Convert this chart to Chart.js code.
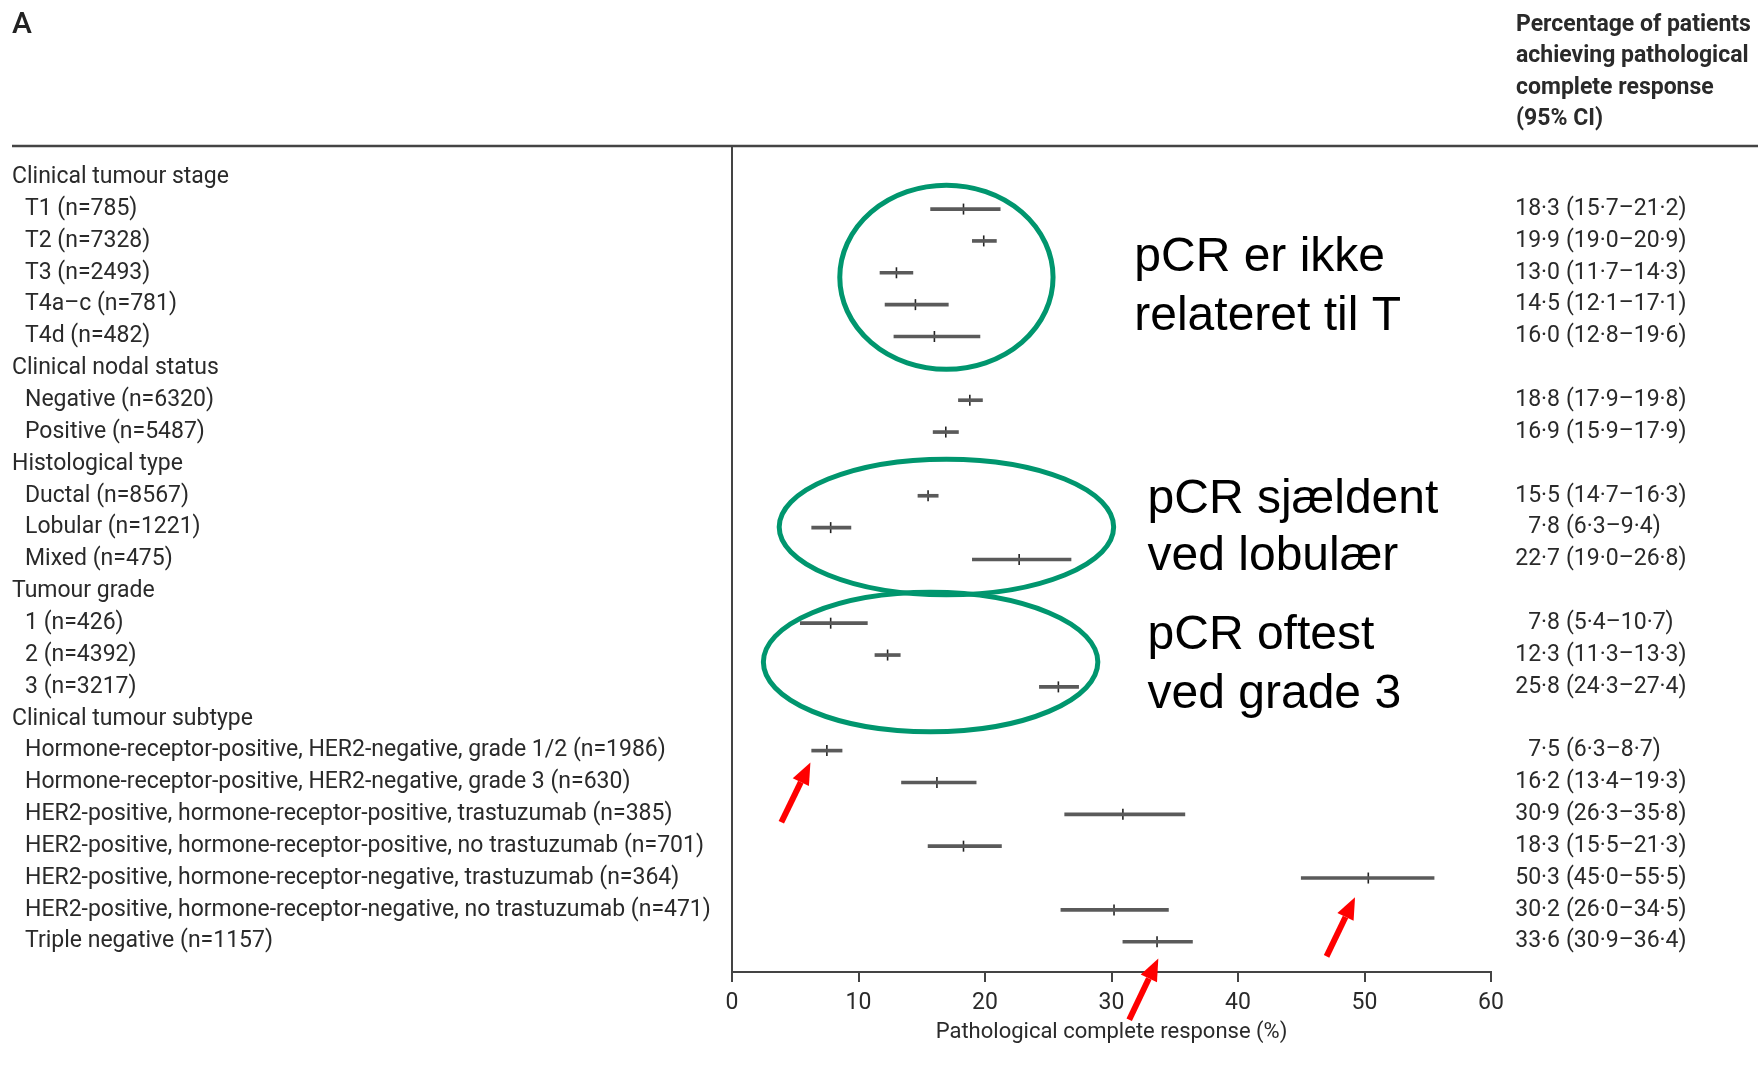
<!DOCTYPE html>
<html>
<head>
<meta charset="utf-8">
<script src="https://cdn.jsdelivr.net/npm/chart.js@4/dist/chart.umd.min.js"></script>
<style>
  body { margin: 0; background: #fff; }
  canvas { display: block; }
</style>
</head>
<body>
<canvas id="forest" width="1760" height="1071"></canvas>
<script>
// === Data ===
const rowLabels = [
  "Clinical tumour stage",
  "T1 (n=785)",
  "T2 (n=7328)",
  "T3 (n=2493)",
  "T4a–c (n=781)",
  "T4d (n=482)",
  "Clinical nodal status",
  "Negative (n=6320)",
  "Positive (n=5487)",
  "Histological type",
  "Ductal (n=8567)",
  "Lobular (n=1221)",
  "Mixed (n=475)",
  "Tumour grade",
  "1 (n=426)",
  "2 (n=4392)",
  "3 (n=3217)",
  "Clinical tumour subtype",
  "Hormone-receptor-positive, HER2-negative, grade 1/2 (n=1986)",
  "Hormone-receptor-positive, HER2-negative, grade 3 (n=630)",
  "HER2-positive, hormone-receptor-positive, trastuzumab (n=385)",
  "HER2-positive, hormone-receptor-positive, no trastuzumab (n=701)",
  "HER2-positive, hormone-receptor-negative, trastuzumab (n=364)",
  "HER2-positive, hormone-receptor-negative, no trastuzumab (n=471)",
  "Triple negative (n=1157)"
];
// null = group header row
const estimates = [null, 18.3, 19.9, 13.0, 14.5, 16.0, null, 18.8, 16.9, null, 15.5, 7.8, 22.7,
  null, 7.8, 12.3, 25.8, null, 7.5, 16.2, 30.9, 18.3, 50.3, 30.2, 33.6];
const ciLow = [null, 15.7, 19.0, 11.7, 12.1, 12.8, null, 17.9, 15.9, null, 14.7, 6.3, 19.0,
  null, 5.4, 11.3, 24.3, null, 6.3, 13.4, 26.3, 15.5, 45.0, 26.0, 30.9];
const ciHigh = [null, 21.2, 20.9, 14.3, 17.1, 19.6, null, 19.8, 17.9, null, 16.3, 9.4, 26.8,
  null, 10.7, 13.3, 27.4, null, 8.7, 19.3, 35.8, 21.3, 55.5, 34.5, 36.4];

const xTicks = [0, 10, 20, 30, 40, 50, 60];
const xTitle = "Pathological complete response (%)";
const headerLines = ["Percentage of patients", "achieving pathological", "complete response", "(95% CI)"];

// overlay notes (x in %, y in row units)
const ovalX = [16.95, 16.95, 15.7];
const ovalRow = [3.14, 10.98, 15.22];
const ovalRadX = [8.43, 13.22, 13.22];
const ovalRadRow = [2.89, 2.13, 2.19];

const noteLines = [["pCR er ikke", "relateret til T"], ["pCR sjældent", "ved lobulær"], ["pCR oftest", "ved grade 3"]];
const noteX = [31.8, 32.85, 32.85];
const noteRow = [[2.54, 4.37], [10.11, 11.91], [14.41, 16.25]];

const arrowTailX = [3.9, 31.4, 47.0];
const arrowTailRow = [20.25, 26.45, 24.46];
const arrowTipX = [6.2, 33.7, 49.25];
const arrowTipRow = [18.37, 24.53, 22.6];

// === Helpers ===
const LABEL_FONT = "Roboto, 'Noto Sans', sans-serif";
const fmt = (v) => v.toFixed(1).replace(".", "·");

const rowIdx = rowLabels.map((_, i) => i);
const ciData = rowIdx.filter((i) => estimates[i] !== null).map((i) => ({ y: i, x: [ciLow[i], ciHigh[i]] }));
const estData = rowIdx.filter((i) => estimates[i] !== null).map((i) => ({ y: i, x: estimates[i] }));

// === Text + overlay plugin ===
const forestDecor = {
  id: "forestDecor",
  afterDraw(chart) {
    const { ctx, chartArea } = chart;
    const xs = chart.scales.x;
    const ys = chart.scales.y;
    ctx.save();

    // panel letter
    ctx.fillStyle = "#222";
    ctx.font = "500 30px " + LABEL_FONT;
    ctx.textBaseline = "alphabetic";
    ctx.textAlign = "left";
    ctx.fillText("A", 12, 33);

    // column header
    ctx.font = "bold 23px " + LABEL_FONT;
    ctx.fillStyle = "#2a2a2a";
    ctx.textBaseline = "middle";
    headerLines.forEach((t, i) => ctx.fillText(t, 1516, 25 + i * 31.5));

    // top rule
    ctx.strokeStyle = "#444";
    ctx.lineWidth = 2.5;
    ctx.beginPath();
    ctx.moveTo(12, chartArea.top);
    ctx.lineTo(1758, chartArea.top);
    ctx.stroke();

    // row labels + values
    rowLabels.forEach((label, i) => {
      const y = ys.getPixelForValue(i);
      const header = estimates[i] === null;
      ctx.font = "23px " + LABEL_FONT;
      ctx.fillStyle = "#2a2a2a";
      ctx.textAlign = "left";
      ctx.fillText(label, header ? 12 : 25, y);
      if (!header) {
        ctx.textAlign = "right";
        ctx.fillText(fmt(estimates[i]), 1560, y);
        ctx.textAlign = "left";
        ctx.fillText("(" + fmt(ciLow[i]) + "–" + fmt(ciHigh[i]) + ")", 1566, y);
      }
    });

    // green ovals
    const rowH = Math.abs(ys.getPixelForValue(1) - ys.getPixelForValue(0));
    const unitX = xs.getPixelForValue(1) - xs.getPixelForValue(0);
    ctx.strokeStyle = "#00966e";
    ctx.lineWidth = 5;
    ovalX.forEach((cx, i) => {
      ctx.beginPath();
      ctx.ellipse(xs.getPixelForValue(cx), ys.getPixelForValue(ovalRow[i]),
        ovalRadX[i] * unitX, ovalRadRow[i] * rowH, 0, 0, Math.PI * 2);
      ctx.stroke();
    });

    // notes
    ctx.fillStyle = "#000";
    ctx.font = "48px 'Liberation Sans', Arial, sans-serif";
    ctx.textAlign = "left";
    ctx.textBaseline = "middle";
    noteLines.forEach((lines, i) => {
      lines.forEach((t, j) => ctx.fillText(t, xs.getPixelForValue(noteX[i]), ys.getPixelForValue(noteRow[i][j])));
    });

    // red arrows
    ctx.strokeStyle = "#ff0000";
    ctx.fillStyle = "#ff0000";
    arrowTailX.forEach((tx, i) => {
      const x0 = xs.getPixelForValue(tx), y0 = ys.getPixelForValue(arrowTailRow[i]);
      const x1 = xs.getPixelForValue(arrowTipX[i]), y1 = ys.getPixelForValue(arrowTipRow[i]);
      const ang = Math.atan2(y1 - y0, x1 - x0);
      const headLen = 22, headW = 9;
      const bx = x1 - headLen * Math.cos(ang), by = y1 - headLen * Math.sin(ang);
      ctx.lineWidth = 6;
      ctx.beginPath();
      ctx.moveTo(x0, y0);
      ctx.lineTo(bx, by);
      ctx.stroke();
      ctx.beginPath();
      ctx.moveTo(x1, y1);
      ctx.lineTo(bx + headW * Math.sin(ang), by - headW * Math.cos(ang));
      ctx.lineTo(bx - headW * Math.sin(ang), by + headW * Math.cos(ang));
      ctx.closePath();
      ctx.fill();
    });

    ctx.restore();
  }
};

// === Chart ===
new Chart(document.getElementById("forest"), {
  type: "bar",
  data: {
    datasets: [
      {
        type: "bar",
        indexAxis: "y",
        data: ciData,
        backgroundColor: "#5a5a5a",
        barThickness: 3,
        borderWidth: 0,
        borderSkipped: false
      },
      {
        type: "scatter",
        data: estData,
        pointStyle: "line",
        rotation: 90,
        radius: 5.5,
        borderWidth: 1.6,
        borderColor: "#222",
        backgroundColor: "#222"
      }
    ]
  },
  options: {
    responsive: false,
    devicePixelRatio: 1,
    animation: false,
    events: [],
    layout: { padding: { left: 732, right: 269, top: 146, bottom: 20 } },
    plugins: { legend: { display: false }, tooltip: { enabled: false } },
    scales: {
      x: {
        type: "linear",
        min: 0,
        max: 60,
        offset: false,
        afterBuildTicks: (scale) => { scale.ticks = xTicks.map((v) => ({ value: v })); },
        afterFit: (scale) => { scale.height = 79; },
        ticks: { font: { family: LABEL_FONT, size: 23 }, color: "#2a2a2a", padding: 7 },
        grid: { offset: false, drawOnChartArea: false, tickLength: 10, color: "#444", lineWidth: 2 },
        border: { display: true, color: "#444", width: 2 },
        title: {
          display: true,
          text: xTitle,
          font: { family: LABEL_FONT, size: 22 },
          color: "#2a2a2a",
          padding: { top: 0, bottom: 5 }
        }
      },
      y: {
        type: "linear",
        min: -0.98,
        max: 24.95,
        reverse: true,
        offset: false,
        afterFit: (scale) => { scale.width = 0; },
        ticks: { display: false },
        grid: { offset: false, display: false },
        border: { display: true, color: "#444", width: 2 }
      }
    }
  },
  plugins: [forestDecor]
});
</script>
</body>
</html>
